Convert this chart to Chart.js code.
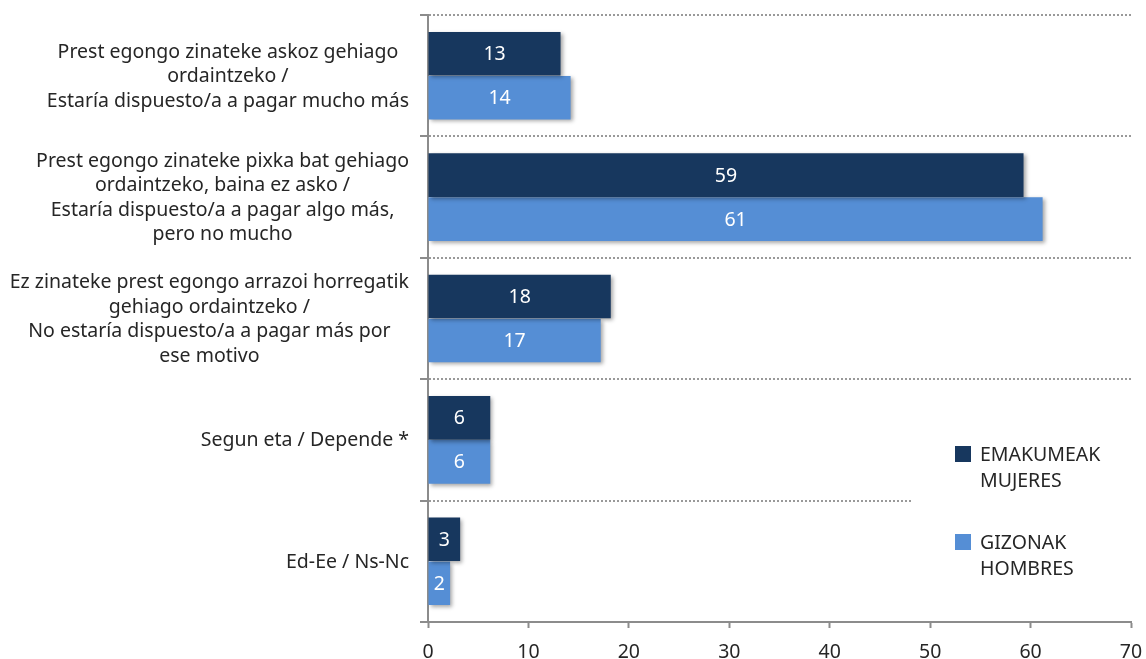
<!DOCTYPE html>
<html>
<head>
<meta charset="utf-8">
<script src="https://cdn.jsdelivr.net/npm/chart.js@4.4.1/dist/chart.umd.min.js"></script>
<style>
  html, body { margin: 0; padding: 0; background: #fff; }
  #wrap { width: 1146px; height: 659px; }
</style>
</head>
<body>
<div id="wrap"><canvas id="chart"></canvas></div>
<script>
const CATEGORIES = [
  ["Prest egongo zinateke askoz gehiago", "ordaintzeko /", "Estaría dispuesto/a a pagar mucho más"],
  ["Prest egongo zinateke pixka bat gehiago", "ordaintzeko, baina ez asko /", "Estaría dispuesto/a a pagar algo más,", "pero no mucho"],
  ["Ez zinateke prest egongo arrazoi horregatik", "gehiago ordaintzeko /", "No estaría dispuesto/a a pagar más por", "ese motivo"],
  ["Segun eta / Depende *"],
  ["Ed-Ee / Ns-Nc"],
];
const WOMEN = [13.2, 59.3, 18.2, 6.2, 3.2];
const MEN = [14.2, 61.2, 17.2, 6.2, 2.2];
const SERIES_LABELS = [["EMAKUMEAK", "MUJERES"], ["GIZONAK", "HOMBRES"]];
const X_TICKS = [0, 10, 20, 30, 40, 50, 60, 70];

const DARK = "#17375e";
const LIGHT = "#558ed5";
const FONT = "'Noto Sans', sans-serif";
const SIZE = 19.5;

// soft shadow under the bars, like the office export
const barShadow = {
  id: "barShadow",
  beforeDatasetsDraw(chart) {
    const ctx = chart.ctx;
    ctx.save();
    ctx.shadowColor = "rgba(0,0,0,0.35)";
    ctx.shadowBlur = 4;
    ctx.shadowOffsetX = 2;
    ctx.shadowOffsetY = 2;
  },
  afterDatasetsDraw(chart) {
    chart.ctx.restore();
  },
};

const valueLabels = {
  id: "valueLabels",
  afterDatasetsDraw(chart) {
    const ctx = chart.ctx;
    ctx.save();
    ctx.fillStyle = "#fff";
    ctx.font = SIZE + "px " + FONT;
    ctx.textAlign = "center";
    ctx.textBaseline = "middle";
    chart.data.datasets.forEach((ds, i) => {
      chart.getDatasetMeta(i).data.forEach((bar, j) => {
        const x = (bar.x + bar.base) / 2;
        ctx.fillText(Math.round(ds.data[j]), x, bar.y + 1);
      });
    });
    ctx.restore();
  },
};

// category labels: block right-aligned to the axis, lines centred inside it
const categoryLabels = {
  id: "categoryLabels",
  afterDraw(chart) {
    const ctx = chart.ctx;
    const y = chart.scales.y;
    const lineH = 24.5;
    ctx.save();
    ctx.fillStyle = "#262626";
    ctx.font = SIZE + "px " + FONT;
    ctx.textAlign = "center";
    ctx.textBaseline = "middle";
    chart.data.labels.forEach((lines, i) => {
      const cy = y.getPixelForTick(i) + 1;
      const w = Math.max(...lines.map((t) => ctx.measureText(t).width));
      const cx = y.right - 19 - w / 2;
      const top = cy - ((lines.length - 1) * lineH) / 2;
      lines.forEach((t, k) => ctx.fillText(t, cx, top + k * lineH));
    });
    ctx.restore();
  },
};

const sideLegend = {
  id: "sideLegend",
  afterDraw(chart) {
    const ctx = chart.ctx;
    ctx.save();
    ctx.fillStyle = "#fff";
    ctx.fillRect(913, 420, 218, 160);
    ctx.font = SIZE + "px " + FONT;
    ctx.textBaseline = "middle";
    const colors = [DARK, LIGHT];
    const tops = [446, 534];
    SERIES_LABELS.forEach((lines, i) => {
      ctx.fillStyle = colors[i];
      ctx.fillRect(955, tops[i], 16, 16);
      ctx.fillStyle = "#262626";
      lines.forEach((t, k) => ctx.fillText(t, 980, tops[i] + 9 + k * 26));
    });
    ctx.restore();
  },
};

new Chart(document.getElementById("chart"), {
  type: "bar",
  data: {
    labels: CATEGORIES,
    datasets: [
      { label: "EMAKUMEAK MUJERES", data: WOMEN, backgroundColor: DARK, barPercentage: 0.99, categoryPercentage: 0.725 },
      { label: "GIZONAK HOMBRES", data: MEN, backgroundColor: LIGHT, barPercentage: 0.99, categoryPercentage: 0.725 },
    ],
  },
  options: {
    indexAxis: "y",
    responsive: true,
    maintainAspectRatio: false,
    animation: false,
    layout: { padding: { top: 15, right: 15, left: 0, bottom: 0 } },
    scales: {
      x: {
        min: 0,
        max: 70,
        afterBuildTicks: (s) => { s.ticks = X_TICKS.map((v) => ({ value: v })); },
        afterFit: (s) => { s.height = 37; s.paddingLeft = 0; s.paddingRight = 0; },
        grid: { drawOnChartArea: false, tickLength: 6, tickColor: "#8c8c8c", tickWidth: 2 },
        border: { color: "#8c8c8c", width: 2 },
        ticks: { color: "#262626", font: { family: FONT, size: SIZE }, padding: 13 },
      },
      y: {
        afterFit: (s) => { s.width = 428; s.paddingTop = 0; s.paddingBottom = 0; },
        grid: {
          offset: true,
          color: "#999",
          lineWidth: 2,
          tickLength: 8,
          tickColor: "#8c8c8c",
          tickWidth: 2,
          tickBorderDash: [],
        },
        border: { color: "#8c8c8c", width: 2, dash: [2, 2] },
        ticks: { display: false },
      },
    },
    plugins: {
      legend: { display: false },
      tooltip: { enabled: false },
    },
  },
  plugins: [barShadow, valueLabels, categoryLabels, sideLegend],
});
</script>
</body>
</html>
